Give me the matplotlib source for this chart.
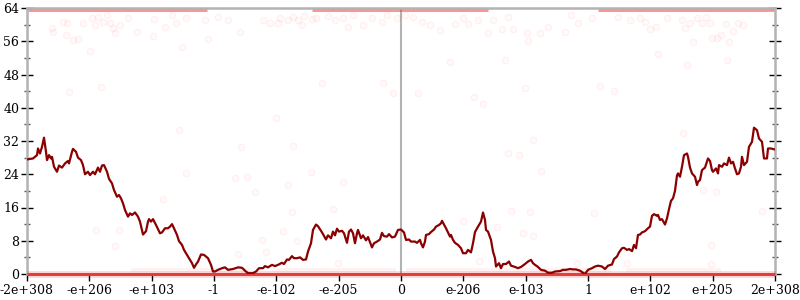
import numpy as np
import matplotlib
matplotlib.use("Agg")
import matplotlib.pyplot as plt

plt.rcParams['font.family'] = ['DejaVu Serif']
plt.rcParams['font.size'] = 9

# x is the ordinal position of the input float (0 = input 0), y is bits of error
tick_labels = ['-2e+308', '-e+206', '-e+103', '-1', '-e-102', '-e-205', '0',
               'e-206', 'e-103', '1', 'e+102', 'e+205', '2e+308']
x_half = 374

line_x = [-373, -368, -364, -363, -361, -359, -357, -355, -354, -352,
          -350, -349, -347, -344, -342, -339, -336, -333, -332, -329,
          -328, -325, -323, -320, -318, -316, -313, -311, -308, -306,
          -303, -301, -299, -297, -294, -292, -289, -287, -284, -282,
          -280, -278, -276, -273, -271, -269, -266, -263, -261, -258,
          -255, -253, -252, -250, -248, -245, -243, -241, -239, -236,
          -233, -231, -229, -227, -224, -222, -219, -217, -214, -212,
          -209, -207, -205, -203, -200, -197, -193, -190, -188,
          -186, -183, -179, -176, -173, -168, -163, -159, -156, -153,
          -148, -145, -142, -138, -136, -133, -129, -126, -123, -119,
          -117, -114, -112, -109, -107, -104, -101, -98, -95, -93,
          -90, -88, -85, -83, -80, -78, -75, -73, -70, -68,
          -66, -64, -62, -59, -57, -54, -52, -50, -48, -46,
          -44, -43, -40, -38, -35, -33, -29, -27, -24, -21,
          -19, -17, -14, -12, -9, -6, -3, 0,
          3, 5, 8, 10, 14, 16, 19, 20, 22, 24,
          25, 28, 30, 33, 35, 38, 40, 41, 43, 45,
          47, 49, 50, 52, 54, 57, 60, 62, 65, 67,
          70, 72, 74, 77, 80, 82, 84, 85, 87, 90,
          92, 94, 95, 98, 100, 102, 105, 108, 110, 114,
          117, 120, 124, 127, 130, 132, 134, 137, 140, 144,
          147, 151, 154, 159, 162, 165, 169, 172, 175, 179,
          182, 184,
          187, 191, 194, 197, 201, 204, 207, 211, 213, 216,
          218, 221, 223, 226, 228, 231, 233, 235, 237, 239,
          241, 244, 247, 249, 251, 253, 256, 257, 259, 261,
          264, 266, 268, 270, 272, 274, 276, 277, 279, 281,
          283, 286, 287, 289, 291, 294, 296, 297, 299, 301,
          304, 307, 309, 311, 312, 315, 317, 318, 321, 323,
          326, 328, 330, 332, 334, 336, 338, 340, 341, 343,
          346, 348, 351, 353, 356, 358, 361, 363, 366, 367,
          370, 373]

line_y = [27.6, 27.8, 28.6, 30.2, 29.0, 30.6, 32.8, 29.4, 27.4, 28.6,
          27.8, 28.2, 25.8, 24.6, 26.1, 25.6, 26.6, 27.2, 26.6, 29.4,
          30.1, 29.4, 28.0, 27.4, 26.2, 24.0, 24.6, 23.8, 24.6, 24.0,
          25.6, 24.6, 26.1, 26.2, 24.6, 22.9, 21.8, 20.2, 18.6, 19.0,
          18.2, 17.0, 15.4, 13.8, 14.6, 14.2, 14.8, 13.8, 12.6, 9.5,
          10.3, 12.6, 13.2, 12.6, 13.2, 11.8, 10.8, 9.8, 10.0, 11.0,
          11.0, 11.4, 12.0, 11.0, 9.4, 7.9, 7.0, 5.8, 4.6, 3.8,
          2.6, 1.5, 2.3, 3.0, 4.7, 4.6, 3.8, 2.2, 0.6,
          0.6, 1.0, 1.4, 1.6, 1.0, 1.2, 1.6, 1.5, 0.8, 0.2,
          0.2, 0.6, 1.4, 1.4, 1.9, 1.6, 2.2, 1.9, 2.2, 2.7,
          2.4, 3.5, 3.4, 4.3, 3.8, 3.8, 4.0, 3.4, 3.5, 5.4,
          7.4, 10.6, 11.9, 11.5, 10.4, 9.6, 8.3, 9.3, 8.6, 10.2,
          9.3, 10.9, 10.2, 10.4, 9.8, 7.5, 10.2, 10.7, 9.8, 7.4,
          9.8, 10.6, 8.6, 9.3, 8.1, 8.9, 6.4, 7.4, 7.8, 8.3,
          9.9, 9.1, 9.0, 9.6, 8.8, 9.0, 10.6, 10.7,
          10.0, 8.2, 8.3, 7.8, 7.8, 7.5, 8.2, 7.4, 6.4, 7.8,
          9.4, 9.6, 10.1, 10.7, 11.4, 11.8, 12.2, 12.8, 11.9, 11.0,
          10.0, 9.0, 9.4, 8.2, 7.5, 7.0, 6.2, 5.0, 5.0, 5.8,
          5.2, 7.4, 10.1, 11.4, 12.6, 14.8, 13.0, 10.6, 10.2, 8.2,
          5.4, 3.8, 1.8, 2.6, 1.4, 2.4, 2.4, 3.0, 2.0, 1.7,
          1.4, 1.7, 2.4, 3.0, 3.4, 2.6, 2.2, 1.7, 1.0, 0.8,
          0.3, 0.3, 0.6, 0.7, 1.0, 1.0, 1.2, 1.1, 1.1, 0.8,
          0.3, 0.0,
          1.0, 1.4, 1.8, 2.0, 1.8, 1.2, 2.0, 2.3, 3.6, 4.2,
          5.2, 6.2, 6.3, 5.8, 6.0, 5.5, 7.0, 6.2, 9.4, 9.5,
          10.0, 10.3, 11.0, 11.4, 14.0, 14.4, 14.0, 14.2, 13.0, 13.2,
          11.9, 13.4, 15.6, 17.6, 18.2, 20.0, 23.7, 24.2, 23.4, 25.8,
          28.6, 29.0, 28.2, 25.6, 24.2, 23.4, 21.4, 22.2, 22.6, 25.0,
          25.6, 27.8, 27.2, 25.0, 24.6, 25.4, 24.2, 26.2, 25.8, 26.6,
          26.2, 28.0, 26.6, 27.0, 25.4, 24.0, 24.2, 25.8, 28.2, 26.2,
          27.0, 30.6, 31.8, 35.2, 34.6, 32.6, 31.8, 27.8, 27.8, 30.2,
          30.2, 30.0]

# individual sample points (faint)
pts_x = [-349, -348, -338, -334, -335, -332, -328, -323, -318, -311, -309, -306, -303,
         -300, -298, -294, -291, -288, -286, -281, -273, -264, -248, -247, -236, -229,
         -225, -222, -219, -215, -196, -193, -183, -173, -161, -160, -138, -131, -125,
         -123, -121, -113, -108, -108, -103, -99, -97, -89, -85, -79, -73, -66, -58,
         -53, -48, -38, -29, -19, -18, -14, -8, -4,
         4, 12, 17, 21, 29, 39, 49, 54, 62, 67, 73, 77, 82, 87, 92, 101, 104, 107, 112,
         124, 126, 127, 132, 139, 147, 164, 170, 177, 191, 199, 213, 217, 229, 239, 244,
         249, 255, 257, 266, 281, 282, 284, 286, 289, 292, 296, 301, 305, 309, 311, 316,
         320, 325, 326, 328, 332, 337, 342,
         -215, -166, -154, -146, -113, -90, -58, -68, -238, -109, -305, -282, -286, -118,
         -104, -139, -135, -163, -63,
         107, 118, 140, 62, 96, 110, 129, 193, 122, 132, 78, 176, 226, 302, 315, 361, 310, 310]
pts_y = [59.1, 58.3, 60.7, 60.3, 57.5, 43.9, 56.3, 56.5, 60.3, 53.7, 61.5, 59.9, 61.9,
         44.9, 60.7, 62.3, 60.3, 59.1, 57.9, 59.9, 61.5, 58.3, 57.3, 61.3, 59.5, 62.3,
         60.5, 34.6, 54.7, 61.5, 61.0, 56.5, 61.8, 61.1, 58.3, 30.6, 61.1, 60.3, 37.5,
         60.3, 61.5, 61.1, 30.9, 61.9, 61.1, 59.9, 62.1, 61.3, 61.5, 45.9, 62.1, 61.1, 61.5,
         59.5, 62.3, 59.9, 61.5, 60.7, 45.9, 62.3, 43.5, 61.5,
         62.3, 61.9, 43.6, 60.7, 59.9, 58.7, 51.1, 60.2, 61.5, 60.2, 42.7, 61.1, 40.9, 58.1,
         61.1, 58.9, 51.6, 61.9, 58.9,
         44.7, 57.9, 56.1, 32.2, 57.9, 59.4, 58.3, 62.3, 60.5, 61.5, 45.2, 44.1, 61.9, 61.1,
         61.5, 60.7, 58.9, 59.4, 52.9, 61.5, 61.1, 34.0, 59.1, 50.3, 60.3, 55.9, 61.5, 60.5,
         61.8, 60.5, 56.7, 56.7, 57.5, 60.2, 51.6, 55.7, 58.5, 60.3, 59.9,
         24.2, 23.0, 23.4, 19.7, 21.4, 24.6, 22.2, 15.6, 18.0, 14.8, 10.6, 10.6, 6.7, 10.4,
         8.0, 8.3, 5.4, 4.8, 2.6,
         29.2, 28.6, 24.9, 12.8, 11.4, 15.2, 14.8, 14.6, 9.8, 9.1, 3.2, 2.6, 2.6, 20.2,
         19.8, 15.2, 7.0, 2.4]

# stretches where many samples sit on the maximum (64) error
top_band = [(-373, -194), (-89, 87), (197, 373)]
low_fuzz = [(-270, -150), (-130, -5), (5, 210), (225, 320)]

fig = plt.figure(figsize=(8, 3), dpi=100)
ax = fig.add_axes([27 / 800, 26 / 300, 748 / 800, 266 / 300])

grey = '#b3b3b3'
ax.axvline(0, color=grey, lw=1.5, zorder=1)

ax.scatter(pts_x, pts_y, s=22, facecolor=(1, 0, 0, 0.025), edgecolor=(1, 0, 0, 0.05),
           linewidths=0.8, zorder=2)
for a, b in top_band:
    ax.hlines(64, a, b, color='#e83030', alpha=0.5, lw=5, zorder=2)
for a, b in low_fuzz:
    ax.hlines(1.0, a, b, color='red', alpha=0.05, lw=3, zorder=2)
ax.hlines(0, -x_half, x_half, color='red', alpha=0.15, lw=5, zorder=4, clip_on=False)
ax.hlines(0, -x_half, x_half, color='#e82828', alpha=0.8, lw=2.2, zorder=4, clip_on=False)

ax.plot(line_x, line_y, color='#8b0000', lw=1.6, zorder=5)

ax.set_xlim(-x_half, x_half)
ax.set_ylim(0, 64)

for s in ax.spines.values():
    s.set_color(grey)
    s.set_linewidth(1.8)

ax.set_xticks(np.linspace(-x_half, x_half, len(tick_labels)))
ax.set_xticklabels(tick_labels)
ax.set_yticks(np.arange(0, 65, 8))
ax.set_yticks(np.arange(4, 64, 8), minor=True)

ax.tick_params(axis='y', which='major', direction='inout', length=9, width=1,
               color='black', left=True, right=True, pad=1)
ax.tick_params(axis='y', which='minor', direction='inout', length=4.5, width=1,
               color='#555555', left=True, right=True)
ax.tick_params(axis='x', which='major', direction='out', length=5, width=1,
               color='black', pad=2)

fig.savefig('out.png', dpi=100)
